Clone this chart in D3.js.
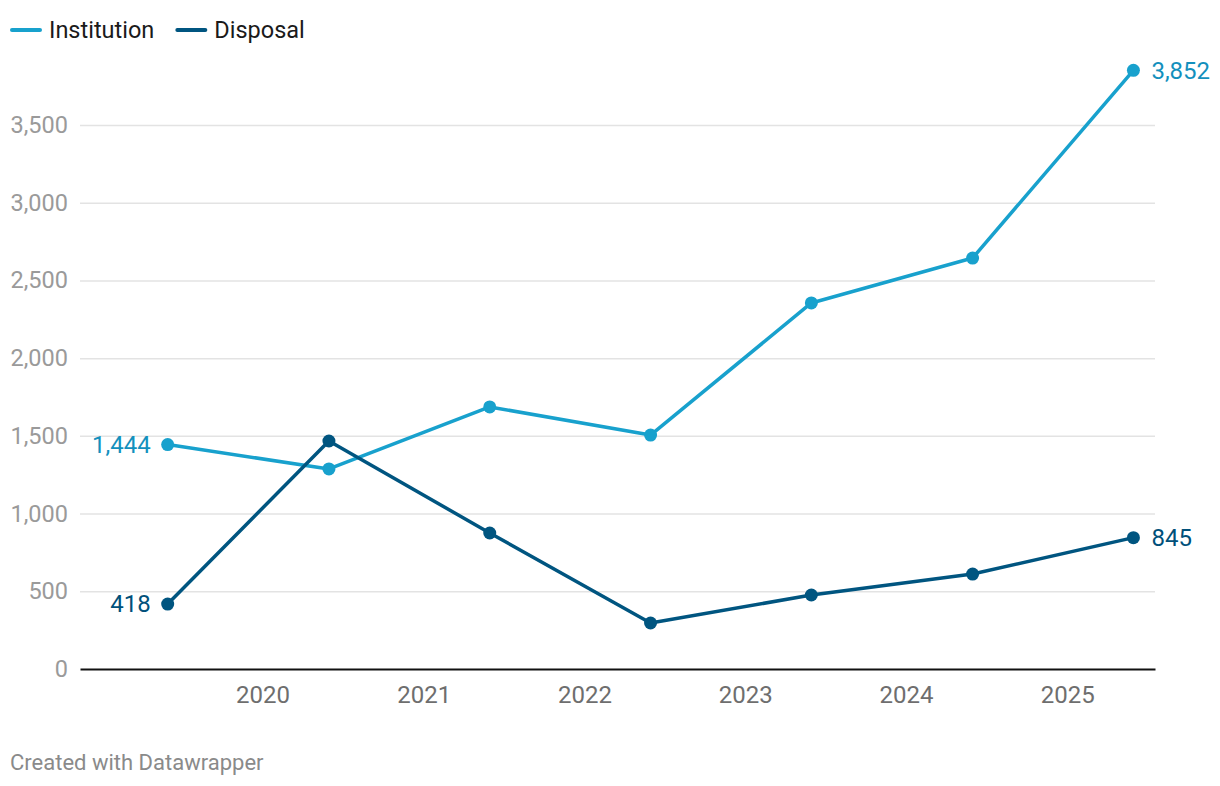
<!DOCTYPE html>
<html>
<head>
<meta charset="utf-8">
<script src="https://cdn.jsdelivr.net/npm/d3@7"></script>
<style>
  html, body { margin: 0; padding: 0; background: #fff; }
  svg { display: block; font-family: Roboto, "Noto Sans", sans-serif; }
</style>
</head>
<body>
<svg id="chart" width="1220" height="786"></svg>
<script>
// ---- data ----
const dates = ["2019-05-31", "2020-05-31", "2021-05-31", "2022-05-31", "2023-05-31", "2024-05-31", "2025-05-31"];
const institution = [1444, 1287, 1686, 1505, 2355, 2644, 3852];
const disposal = [418, 1467, 875, 296, 476, 611, 845];
const seriesNames = ["Institution", "Disposal"];
const yTicks = [0, 500, 1000, 1500, 2000, 2500, 3000, 3500];
const xTickYears = [2020, 2021, 2022, 2023, 2024, 2025];

// ---- style ----
const colors = { Institution: "#18a1cd", Disposal: "#005580" };
const labelColors = { Institution: "#1390bd", Disposal: "#00507a" };

const svg = d3.select("#chart");
const parse = d3.timeParse("%Y-%m-%d");
const margin = { left: 80, right: 1155 };

const x = d3.scaleTime()
  .domain([new Date(2018, 10, 13), new Date(2025, 6, 19)])
  .range([margin.left, margin.right]);
const y = d3.scaleLinear().domain([0, 3500]).range([669, 125]);

// gridlines + y labels
const gy = svg.append("g").attr("transform", `translate(${margin.left},0)`)
  .call(d3.axisLeft(y).tickValues(yTicks).tickSize(-(margin.right - margin.left)).tickFormat(d3.format(",")).tickPadding(12));
gy.select(".domain").remove();
gy.selectAll(".tick line").attr("stroke", "#e3e3e3").attr("stroke-width", 1.5)
  .filter(d => d === 0).remove();
gy.selectAll(".tick text").attr("fill", "#9a9a9a").style("font-size", "23.5px").attr("font-family", "Roboto");

// x axis
const gx = svg.append("g").attr("transform", `translate(0,669)`)
  .call(d3.axisBottom(x).tickValues(xTickYears.map(yr => new Date(yr, 0, 1))).tickSize(0).tickPadding(17).tickFormat(d3.timeFormat("%Y")));
gx.select(".domain").attr("stroke", "#111").attr("stroke-width", 2);
gx.selectAll(".tick text").attr("fill", "#6e6e6e").style("font-size", "24px").attr("font-family", "Roboto");

const series = [
  { name: "Institution", values: institution },
  { name: "Disposal", values: disposal }
];

const line = d3.line().x((d, i) => x(parse(dates[i]))).y(d => y(d));

series.forEach(s => {
  svg.append("path").datum(s.values)
    .attr("d", line)
    .attr("fill", "none")
    .attr("stroke", colors[s.name])
    .attr("stroke-width", 3.5)
    .attr("stroke-linejoin", "round");
  svg.append("g").selectAll("circle").data(s.values).join("circle")
    .attr("cx", (d, i) => x(parse(dates[i])))
    .attr("cy", d => y(d))
    .attr("r", 6.5)
    .attr("fill", colors[s.name]);
  const n = s.values.length;
  svg.append("text")
    .attr("x", x(parse(dates[0])) - 17)
    .attr("y", y(s.values[0]))
    .attr("dy", "0.35em")
    .attr("text-anchor", "end")
    .attr("fill", labelColors[s.name])
    .style("font-size", "24px")
    .text(d3.format(",")(s.values[0]));
  svg.append("text")
    .attr("x", x(parse(dates[n - 1])) + 18)
    .attr("y", y(s.values[n - 1]))
    .attr("dy", "0.35em")
    .attr("text-anchor", "start")
    .attr("fill", labelColors[s.name])
    .style("font-size", "24px")
    .text(d3.format(",")(s.values[n - 1]));
});

// legend
const legend = svg.append("g");
let lx = 10;
seriesNames.forEach(name => {
  legend.append("line")
    .attr("x1", lx + 2).attr("x2", lx + 30).attr("y1", 30).attr("y2", 30)
    .attr("stroke", colors[name]).attr("stroke-width", 4).attr("stroke-linecap", "round");
  const t = legend.append("text")
    .attr("x", lx + 39).attr("y", 30).attr("dy", "0.35em")
    .attr("fill", "#1a1a1a").style("font-size", "23.5px")
    .text(name);
  lx = lx + 39 + t.node().getComputedTextLength() + 21;
});

// credit
svg.append("text").attr("x", 10).attr("y", 770)
  .attr("fill", "#8a8a8a").style("font-size", "22px")
  .text("Created with Datawrapper");
</script>
</body>
</html>
